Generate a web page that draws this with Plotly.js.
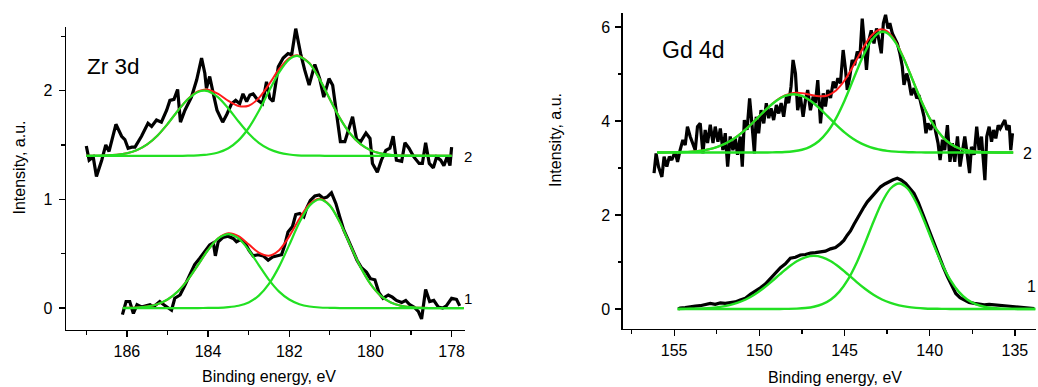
<!DOCTYPE html>
<html>
<head>
<meta charset="utf-8">
<script src="https://cdn.plot.ly/plotly-3.0.1.min.js"></script>
<style>html,body{margin:0;padding:0;background:#fff;}#chart{width:1038px;height:387px;}</style>
</head>
<body>
<div id="chart"></div>
<script>
// ---------- Zr 3d panel: measured spectra [binding energy, intensity] ----------
const zrSpec2 = [[187.0,1.49],[186.93,1.36],[186.83,1.39],[186.75,1.21],[186.62,1.36],[186.52,1.50],[186.44,1.44],[186.27,1.69],[186.13,1.58],[186.05,1.55],[185.97,1.47],[185.88,1.48],[185.80,1.48],[185.64,1.58],[185.48,1.70],[185.39,1.67],[185.27,1.73],[185.15,1.71],[185.02,1.82],[184.94,1.91],[184.84,1.92],[184.75,2.01],[184.68,1.71],[184.57,1.82],[184.41,1.94],[184.28,2.10],[184.16,2.30],[184.08,2.16],[184.04,2.02],[183.96,2.13],[183.87,1.97],[183.78,1.82],[183.64,1.71],[183.54,1.78],[183.42,1.88],[183.32,1.91],[183.22,1.88],[183.14,1.97],[183.05,1.90],[182.97,1.96],[182.89,1.97],[182.77,1.91],[182.66,1.88],[182.56,2.08],[182.48,1.93],[182.40,1.90],[182.27,2.22],[182.15,2.30],[182.03,2.34],[181.94,2.33],[181.84,2.57],[181.72,2.34],[181.62,2.19],[181.51,2.05],[181.37,2.24],[181.25,2.11],[181.15,1.94],[181.02,2.11],[180.93,2.05],[180.84,1.79],[180.74,1.53],[180.63,1.53],[180.55,1.62],[180.44,1.76],[180.34,1.55],[180.24,1.53],[180.11,1.61],[180.01,1.56],[179.95,1.33],[179.83,1.25],[179.73,1.36],[179.62,1.45],[179.52,1.47],[179.44,1.58],[179.36,1.36],[179.23,1.35],[179.15,1.52],[179.05,1.47],[178.93,1.39],[178.80,1.33],[178.72,1.33],[178.64,1.52],[178.55,1.33],[178.45,1.29],[178.37,1.39],[178.27,1.36],[178.19,1.31],[178.11,1.39],[178.04,1.31],[178.00,1.48]];
const zrSpec1 = [[186.11,-0.06],[186.02,0.06],[185.93,0.06],[185.84,-0.05],[185.75,0.03],[185.64,0.01],[185.53,0.02],[185.43,0.03],[185.35,0.01],[185.27,0.04],[185.19,0.06],[185.09,0.03],[184.98,0.0],[184.90,-0.02],[184.82,0.09],[184.69,0.12],[184.57,0.21],[184.45,0.30],[184.33,0.40],[184.20,0.46],[184.08,0.52],[183.96,0.58],[183.87,0.60],[183.82,0.48],[183.75,0.61],[183.63,0.65],[183.51,0.66],[183.38,0.64],[183.30,0.61],[183.20,0.63],[183.09,0.60],[182.99,0.53],[182.89,0.48],[182.77,0.49],[182.64,0.48],[182.52,0.44],[182.41,0.47],[182.30,0.48],[182.19,0.49],[182.11,0.58],[182.03,0.70],[181.92,0.75],[181.84,0.86],[181.74,0.87],[181.64,0.84],[181.57,0.92],[181.48,0.99],[181.37,1.03],[181.26,1.04],[181.16,1.01],[181.07,1.02],[180.96,1.06],[180.85,0.96],[180.75,0.83],[180.66,0.72],[180.55,0.63],[180.44,0.53],[180.33,0.44],[180.22,0.37],[180.10,0.33],[180.00,0.27],[179.89,0.26],[179.79,0.14],[179.69,0.09],[179.56,0.12],[179.46,0.10],[179.36,0.07],[179.23,0.05],[179.13,0.07],[179.03,0.03],[178.93,0.01],[178.82,-0.03],[178.74,-0.10],[178.64,0.17],[178.54,0.06],[178.44,0.07],[178.33,0.01],[178.22,0.0],[178.13,0.02],[178.00,0.09],[177.88,0.08],[177.80,0.02]];

// ---------- Zr 3d fitted components (read from the green / red curves) ----------
const zrFitX2 = [187.0,186.5,186.25,186.0,185.75,185.5,185.25,185.0,184.75,184.5,184.25,184.1,184.0,183.75,183.5,183.25,183.0,182.75,182.5,182.25,182.0,181.8,181.5,181.25,181.0,180.75,180.5,180.25,180.0,179.75,179.5,179.25,179.0,178.0];
const zrFitA2 = [1.400,1.404,1.410,1.424,1.453,1.505,1.585,1.692,1.812,1.920,1.988,2.000,1.995,1.938,1.836,1.716,1.605,1.519,1.462,1.429,1.412,1.405,1.402,1.401,1.400,1.400,1.400,1.400,1.400,1.400,1.400,1.400,1.400,1.400];
const zrFitB2 = [1.400,1.400,1.400,1.400,1.400,1.400,1.400,1.400,1.400,1.401,1.404,1.408,1.412,1.431,1.470,1.542,1.656,1.812,1.995,2.168,2.288,2.320,2.249,2.103,1.921,1.745,1.605,1.509,1.452,1.422,1.408,1.403,1.401,1.400];
const zrFitSum2 = [1.400,1.404,1.410,1.424,1.453,1.505,1.585,1.692,1.812,1.921,1.992,2.008,2.007,1.969,1.906,1.858,1.861,1.931,2.057,2.197,2.300,2.325,2.251,2.104,1.921,1.745,1.605,1.509,1.452,1.422,1.408,1.403,1.401,1.400];

const zrFitX1 = [186.1,186.0,185.75,185.5,185.25,185.0,184.75,184.5,184.25,184.0,183.75,183.5,183.25,183.0,182.75,182.5,182.25,182.0,181.75,181.5,181.25,181.0,180.75,180.5,180.25,180.0,179.75,179.5,179.25,179.0,178.75,177.7];
const zrFitA1 = [0.001,0.002,0.005,0.014,0.035,0.078,0.151,0.259,0.395,0.534,0.640,0.680,0.640,0.534,0.395,0.259,0.151,0.078,0.035,0.014,0.005,0.002,0,0,0,0,0,0,0,0,0,0];
const zrFitB1 = [0,0,0,0,0,0,0,0,0,0.001,0.002,0.008,0.021,0.052,0.114,0.222,0.381,0.581,0.786,0.942,1.000,0.942,0.786,0.581,0.381,0.222,0.114,0.052,0.021,0.008,0.002,0];
const zrFitSum1 = [0.001,0.002,0.005,0.014,0.035,0.078,0.151,0.259,0.395,0.535,0.642,0.688,0.661,0.586,0.509,0.481,0.532,0.659,0.821,0.956,1.005,0.944,0.786,0.581,0.381,0.222,0.114,0.052,0.021,0.008,0.002,0];

// ---------- Gd 4d panel: measured spectra ----------
const gdSpec2 = [[156.18,2.89],[156.06,3.31],[155.92,3.03],[155.72,2.81],[155.59,3.24],[155.43,3.03],[155.28,3.24],[155.14,3.17],[154.94,3.35],[154.80,3.13],[154.65,3.38],[154.49,3.60],[154.35,3.49],[154.22,3.88],[154.06,3.67],[153.90,3.53],[153.76,3.38],[153.63,3.88],[153.47,3.95],[153.31,3.31],[153.18,3.81],[153.04,3.53],[152.88,3.92],[152.72,3.53],[152.59,3.88],[152.43,3.56],[152.29,3.84],[152.14,3.38],[152.00,3.74],[151.86,3.03],[151.71,3.67],[151.55,3.38],[151.41,3.63],[151.28,3.28],[151.12,3.67],[151.00,3.03],[150.88,4.02],[150.72,3.81],[150.57,4.48],[150.43,3.92],[150.29,3.31],[150.18,4.09],[150.04,3.74],[149.90,4.23],[149.74,3.95],[149.59,4.38],[149.45,4.06],[149.31,4.27],[149.16,4.02],[149.00,4.34],[148.86,4.16],[148.72,4.38],[148.57,4.09],[148.41,4.52],[148.28,4.38],[148.14,4.73],[148.02,5.30],[147.88,5.01],[147.75,4.23],[147.59,4.52],[147.43,4.09],[147.29,4.45],[147.16,4.66],[147.00,4.23],[146.84,4.52],[146.71,4.38],[146.57,4.87],[146.41,3.95],[146.25,4.59],[146.12,4.31],[145.98,4.66],[145.82,4.49],[145.66,4.84],[145.53,4.70],[145.39,4.91],[145.24,4.80],[145.08,5.51],[144.94,5.09],[144.84,4.66],[144.69,4.94],[144.55,5.30],[144.41,5.19],[144.25,5.48],[144.10,5.34],[143.96,6.18],[143.82,5.58],[143.71,5.09],[143.57,5.72],[143.43,5.93],[143.27,5.65],[143.12,5.97],[142.98,5.72],[142.84,5.44],[142.72,6.08],[142.59,6.26],[142.45,5.97],[142.34,6.08],[142.19,5.86],[142.06,5.76],[141.90,5.65],[141.75,5.44],[141.61,5.16],[141.51,4.77],[141.35,5.01],[141.22,4.84],[141.08,4.55],[140.92,4.70],[140.76,4.48],[140.63,4.55],[140.49,4.30],[140.33,4.09],[140.22,3.74],[140.10,3.95],[139.94,3.81],[139.78,4.02],[139.65,3.77],[139.51,3.53],[139.39,3.17],[139.25,3.60],[139.12,3.38],[138.96,3.91],[138.81,3.13],[138.67,3.53],[138.53,3.13],[138.37,3.67],[138.22,3.03],[138.08,3.38],[137.94,3.67],[137.78,3.24],[137.66,2.89],[137.55,3.45],[137.39,3.28],[137.24,3.88],[137.10,3.38],[136.96,3.67],[136.84,3.03],[136.76,2.74],[136.65,3.67],[136.51,3.88],[136.37,3.56],[136.25,3.81],[136.12,3.63],[135.98,3.91],[135.86,3.84],[135.72,3.95],[135.59,4.02],[135.47,3.81],[135.33,3.91],[135.24,3.38],[135.14,3.74]];
const gdSpec1 = [[154.76,0.00],[154.65,0.02],[154.35,0.03],[154.06,0.05],[153.76,0.06],[153.47,0.07],[153.18,0.09],[152.88,0.12],[152.59,0.10],[152.29,0.13],[152.00,0.12],[151.71,0.14],[151.41,0.15],[151.12,0.19],[150.82,0.23],[150.53,0.31],[150.24,0.37],[149.94,0.45],[149.65,0.53],[149.35,0.65],[149.06,0.75],[148.76,0.88],[148.47,0.96],[148.18,1.08],[147.88,1.10],[147.59,1.15],[147.29,1.16],[147.00,1.19],[146.71,1.20],[146.41,1.22],[146.12,1.23],[145.82,1.28],[145.53,1.31],[145.24,1.39],[145.04,1.46],[144.84,1.57],[144.65,1.66],[144.45,1.80],[144.25,1.93],[144.06,2.07],[143.86,2.17],[143.66,2.28],[143.47,2.36],[143.27,2.46],[143.08,2.54],[142.88,2.60],[142.63,2.66],[142.39,2.71],[142.15,2.75],[141.90,2.78],[141.66,2.74],[141.41,2.67],[141.16,2.57],[140.92,2.46],[140.67,2.27],[140.43,2.04],[140.18,1.80],[139.94,1.57],[139.69,1.34],[139.45,1.11],[139.20,0.89],[138.96,0.69],[138.71,0.50],[138.47,0.33],[138.22,0.24],[137.98,0.19],[137.69,0.14],[137.39,0.12],[137.10,0.10],[136.80,0.09],[136.51,0.10],[136.22,0.09],[135.92,0.07],[135.63,0.06],[135.33,0.05],[135.04,0.04],[134.75,0.04],[134.45,0.03],[134.16,0.02],[133.86,0.01]];

// ---------- Gd 4d fitted components ----------
const gdFitX2 = [156.0,155.5,155.0,154.5,154.0,153.5,153.0,152.5,152.0,151.5,151.0,150.5,150.0,149.5,149.0,148.5,148.0,147.5,147.0,146.5,146.0,145.5,145.0,144.5,144.0,143.5,143.0,142.75,142.5,142.0,141.5,141.0,140.5,140.0,139.5,139.0,138.5,138.0,137.5,137.0,136.5,136.0,135.1];
const gdFitA2 = [3.331,3.332,3.334,3.339,3.348,3.365,3.395,3.444,3.518,3.623,3.759,3.924,4.104,4.281,4.432,4.534,4.570,4.534,4.432,4.281,4.104,3.924,3.759,3.623,3.518,3.444,3.395,3.378,3.365,3.348,3.339,3.334,3.332,3.331,3.330,3.330,3.330,3.330,3.330,3.330,3.330,3.330,3.330];
const gdFitB2 = [3.330,3.330,3.330,3.330,3.330,3.330,3.330,3.330,3.330,3.330,3.330,3.330,3.330,3.331,3.334,3.340,3.356,3.389,3.456,3.575,3.770,4.057,4.433,4.871,5.309,5.669,5.873,5.900,5.873,5.669,5.309,4.871,4.433,4.057,3.770,3.575,3.456,3.389,3.356,3.340,3.334,3.331,3.330];
const gdFitSum2 = [3.331,3.332,3.334,3.339,3.348,3.365,3.395,3.444,3.518,3.623,3.759,3.924,4.104,4.282,4.436,4.544,4.596,4.593,4.558,4.526,4.544,4.651,4.862,5.164,5.497,5.783,5.938,5.948,5.908,5.687,5.318,4.875,4.435,4.058,3.770,3.575,3.456,3.389,3.356,3.340,3.334,3.331,3.330];

const gdFitX1 = [154.8,154.3,153.8,153.3,152.8,152.3,151.8,151.3,150.8,150.3,149.8,149.3,148.8,148.3,147.8,147.3,146.8,146.3,145.8,145.3,144.8,144.3,143.8,143.3,142.8,142.3,141.8,141.3,140.8,140.3,139.8,139.3,138.8,138.3,137.8,137.3,136.8,136.3,135.8,135.3,134.8,134.3,133.8];
const gdFitA1 = [0.001,0.003,0.006,0.012,0.024,0.044,0.078,0.129,0.203,0.304,0.431,0.578,0.736,0.888,1.015,1.100,1.130,1.100,1.015,0.888,0.736,0.578,0.431,0.304,0.203,0.129,0.078,0.044,0.024,0.012,0.006,0.003,0.001,0,0,0,0,0,0,0,0,0,0];
const gdFitB1 = [0,0,0,0,0,0,0,0,0,0,0,0,0.001,0.003,0.008,0.020,0.047,0.102,0.202,0.370,0.625,0.974,1.400,1.857,2.272,2.564,2.670,2.564,2.272,1.857,1.400,0.974,0.625,0.370,0.202,0.102,0.047,0.020,0.008,0.003,0.001,0,0];

// ---------- text ----------
const panelLabels = ["Zr 3d", "Gd 4d"];
const curveLabels = ["1", "2"];
const xTitle = "Binding energy, eV";
const yTitle = "Intensity, a.u.";

// ---------- drawing ----------
const BLACK = '#000000', GREEN = '#22e022', RED = '#ff1a1a';
const FONT = 'Liberation Sans, Arial, Helvetica, sans-serif';
const col = (arr, i) => arr.map(p => p[i]);

function spec(data, xa, ya) {
  return {x: col(data,0), y: col(data,1), xaxis: xa, yaxis: ya, mode: 'lines',
          line: {color: BLACK, width: 3.2}, hoverinfo: 'skip'};
}
function fit(x, y, color, width, xa, ya) {
  return {x: x, y: y, xaxis: xa, yaxis: ya, mode: 'lines',
          line: {color: color, width: width, shape: 'spline', smoothing: 0.8}, hoverinfo: 'skip'};
}

const traces = [
  spec(zrSpec2, 'x', 'y'), spec(zrSpec1, 'x', 'y'),
  fit(zrFitX2, zrFitSum2, RED, 2, 'x', 'y'), fit(zrFitX1, zrFitSum1, RED, 2, 'x', 'y'),
  fit(zrFitX2, zrFitA2, GREEN, 2.2, 'x', 'y'), fit(zrFitX2, zrFitB2, GREEN, 2.2, 'x', 'y'),
  fit(zrFitX1, zrFitA1, GREEN, 2.2, 'x', 'y'), fit(zrFitX1, zrFitB1, GREEN, 2.2, 'x', 'y'),
  spec(gdSpec2, 'x2', 'y2'), spec(gdSpec1, 'x2', 'y2'),
  fit(gdFitX2, gdFitSum2, RED, 2, 'x2', 'y2'),
  fit(gdFitX2, gdFitA2, GREEN, 2.4, 'x2', 'y2'), fit(gdFitX2, gdFitB2, GREEN, 2.4, 'x2', 'y2'),
  fit(gdFitX1, gdFitA1, GREEN, 2.4, 'x2', 'y2'), fit(gdFitX1, gdFitB1, GREEN, 2.4, 'x2', 'y2')
];

const W = 1038, H = 387;
const px = v => v / W, py = v => 1 - v / H;

function axisBase(extra) {
  return Object.assign({
    showline: true, linecolor: BLACK, linewidth: 1.4, mirror: false,
    ticks: 'outside', ticklen: 6, tickwidth: 1.3, tickcolor: BLACK,
    showgrid: false, zeroline: false, fixedrange: true,
    tickfont: {family: FONT, size: 16, color: BLACK}
  }, extra);
}
function minor(d) {
  return {dtick: d, ticks: 'outside', ticklen: 3.5, tickwidth: 1.2, tickcolor: BLACK, showgrid: false};
}

const layout = {
  width: W, height: H,
  margin: {l: 0, r: 0, t: 0, b: 0},
  paper_bgcolor: '#fff', plot_bgcolor: '#fff',
  showlegend: false,
  font: {family: FONT, color: BLACK},
  xaxis: axisBase({domain: [px(66), px(465)], range: [187.5, 177.67], anchor: 'y', tick0: 178, dtick: 2, minor: minor(1)}),
  yaxis: axisBase({domain: [py(330), py(27)], range: [-0.202, 2.585], anchor: 'x', tick0: 0, dtick: 1, minor: minor(0.5), ticklabelstandoff: 3}),
  xaxis2: axisBase({domain: [px(622.7), px(1036)], range: [158.02, 133.76], anchor: 'y2', tick0: 135, dtick: 5, minor: minor(2.5)}),
  yaxis2: axisBase({domain: [py(329), py(13)], range: [-0.4255, 6.298], anchor: 'x2', tick0: 0, dtick: 2, minor: minor(1), ticklabelstandoff: 2}),
  annotations: [
    {text: panelLabels[0], xref: 'paper', yref: 'paper', x: px(85), y: py(67), xanchor: 'left', yanchor: 'middle', showarrow: false, font: {family: FONT, size: 22.5, color: BLACK}},
    {text: panelLabels[1], xref: 'paper', yref: 'paper', x: px(660), y: py(50), xanchor: 'left', yanchor: 'middle', showarrow: false, font: {family: FONT, size: 23, color: BLACK}},
    {text: curveLabels[1], xref: 'paper', yref: 'paper', x: px(468), y: py(156), xanchor: 'center', yanchor: 'middle', showarrow: false, font: {family: FONT, size: 15, color: BLACK}},
    {text: curveLabels[0], xref: 'paper', yref: 'paper', x: px(468), y: py(298), xanchor: 'center', yanchor: 'middle', showarrow: false, font: {family: FONT, size: 15, color: BLACK}},
    {text: curveLabels[1], xref: 'paper', yref: 'paper', x: px(1027), y: py(153), xanchor: 'center', yanchor: 'middle', showarrow: false, font: {family: FONT, size: 16, color: BLACK}},
    {text: curveLabels[0], xref: 'paper', yref: 'paper', x: px(1031), y: py(286), xanchor: 'center', yanchor: 'middle', showarrow: false, font: {family: FONT, size: 16, color: BLACK}},
    {text: yTitle, xref: 'paper', yref: 'paper', x: px(18.5), y: py(168), xanchor: 'center', yanchor: 'middle', textangle: -90, showarrow: false, font: {family: FONT, size: 16, color: BLACK}},
    {text: yTitle, xref: 'paper', yref: 'paper', x: px(555), y: py(140), xanchor: 'center', yanchor: 'middle', textangle: -90, showarrow: false, font: {family: FONT, size: 16, color: BLACK}},
    {text: xTitle, xref: 'paper', yref: 'paper', x: px(269), y: py(376), xanchor: 'center', yanchor: 'middle', showarrow: false, font: {family: FONT, size: 16, color: BLACK}},
    {text: xTitle, xref: 'paper', yref: 'paper', x: px(835), y: py(377), xanchor: 'center', yanchor: 'middle', showarrow: false, font: {family: FONT, size: 16, color: BLACK}}
  ]
};

Plotly.newPlot('chart', traces, layout, {displayModeBar: false, staticPlot: true});
</script>
</body>
</html>
